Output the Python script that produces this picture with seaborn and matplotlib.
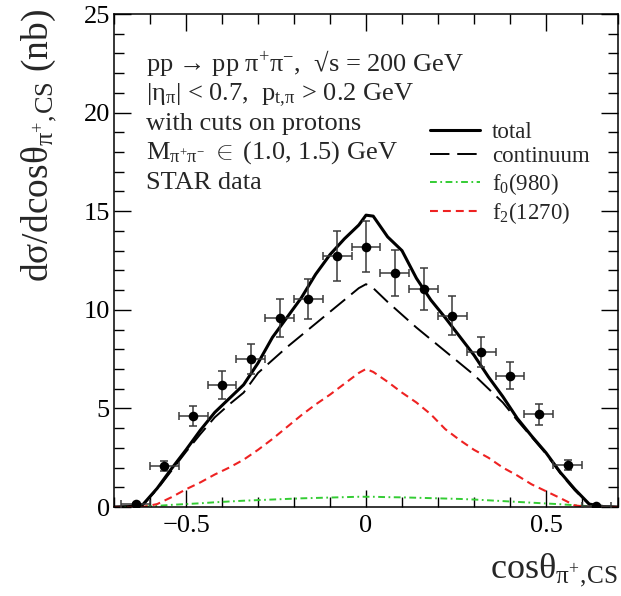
import numpy as np
import matplotlib
matplotlib.use("Agg")
import matplotlib.pyplot as plt
from matplotlib.ticker import MultipleLocator, FuncFormatter
import seaborn as sns

sns.set_style("ticks")
plt.rcParams["font.family"] = ["Liberation Serif", "DejaVu Serif"]
plt.rcParams["mathtext.fontset"] = "custom"
plt.rcParams["mathtext.rm"] = "Liberation Serif"
plt.rcParams["mathtext.it"] = "Liberation Serif:italic"
plt.rcParams["mathtext.bf"] = "Liberation Serif:bold"

# STAR data points (bin centres, values, errors)
data_x = [-0.64, -0.56, -0.48, -0.40, -0.32, -0.24, -0.16, -0.08, 0.0,
          0.08, 0.16, 0.24, 0.32, 0.40, 0.48, 0.56, 0.64]
data_y = [0.15, 2.1, 4.6, 6.2, 7.5, 9.6, 10.55, 12.75, 13.2,
          11.85, 11.05, 9.7, 7.85, 6.65, 4.7, 2.15, 0.05]
data_yerr = [0.05, 0.25, 0.5, 0.7, 0.75, 0.97, 1.0, 1.27, 1.28,
             1.16, 1.08, 1.0, 0.76, 0.69, 0.52, 0.25, 0.03]
data_xerr = 0.04

# model curves
curve_x = [-0.70, -0.66, -0.62, -0.58, -0.54, -0.50, -0.46, -0.42, -0.38, -0.34,
           -0.30, -0.26, -0.22, -0.18, -0.14, -0.10, -0.06, -0.02, 0.00, 0.02,
           0.06, 0.10, 0.14, 0.18, 0.22, 0.26, 0.30, 0.34, 0.38, 0.42,
           0.46, 0.50, 0.54, 0.58, 0.62, 0.66, 0.70]
total = [0.0, 0.02, 0.12, 0.95, 1.95, 2.9, 3.9, 4.8, 5.5, 6.2,
         7.3, 8.6, 9.6, 10.6, 11.8, 12.8, 13.6, 14.3, 14.8, 14.75,
         13.7, 13.0, 11.6, 10.5, 9.6, 8.65, 7.7, 6.6, 5.6, 4.5,
         3.6, 2.75, 1.75, 0.9, 0.15, 0.02, 0.0]
continuum = [0.0, 0.02, 0.1, 0.9, 1.85, 2.8, 3.7, 4.55, 5.2, 5.8,
             6.8, 7.45, 8.1, 8.7, 9.3, 9.9, 10.5, 11.1, 11.3, 11.1,
             10.4, 9.75, 9.1, 8.5, 7.9, 7.3, 6.7, 6.0, 5.3, 4.4,
             3.55, 2.7, 1.7, 0.85, 0.12, 0.02, 0.0]
f0_980 = [0.0, 0.0, 0.02, 0.06, 0.11, 0.15, 0.19, 0.24, 0.28, 0.32,
          0.35, 0.38, 0.41, 0.44, 0.46, 0.48, 0.50, 0.52, 0.52, 0.52,
          0.50, 0.49, 0.47, 0.45, 0.43, 0.41, 0.38, 0.34, 0.30, 0.26,
          0.22, 0.18, 0.14, 0.09, 0.04, 0.01, 0.0]
f2_1270 = [0.0, 0.0, 0.0, 0.15, 0.5, 0.9, 1.25, 1.65, 2.0, 2.4,
           2.9, 3.45, 4.05, 4.65, 5.2, 5.7, 6.25, 6.8, 7.0, 6.85,
           6.35, 5.8, 5.3, 4.7, 3.95, 3.4, 2.9, 2.5, 2.0, 1.6,
           1.15, 0.8, 0.45, 0.08, 0.0, 0.0, 0.0]

info_lines = [
    "pp → pp π$^{+}$π$^{-}$,  √s = 200 GeV",
    "|η$_{\\mathrm{π}}$| < 0.7,  p$_{\\mathrm{t,\\!π}}$ > 0.2 GeV",
    "with cuts on protons",
    "M$_{\\mathrm{π^{+}π^{-}}}$ $\\in$ (1.0, 1.5) GeV",
    "STAR data",
]
info_y = [22.1, 20.6, 19.1, 17.65, 16.15]

fig = plt.figure(figsize=(6.21, 5.96), dpi=100)
ax = fig.add_axes([0.1836, 0.1493, 0.8116, 0.8272])

sns.lineplot(x=curve_x, y=total, ax=ax, color="black", lw=2.2,
             estimator=None, label="total")
sns.lineplot(x=curve_x, y=continuum, ax=ax, color="black", lw=1.4,
             linestyle=(0, (10, 4)), estimator=None, label="continuum")
sns.lineplot(x=curve_x, y=f0_980, ax=ax, color="#33cc33", lw=1.4,
             linestyle=(0, (3.5, 1.8, 0.9, 1.8)), estimator=None, label="f$_{0}$(980)")
sns.lineplot(x=curve_x, y=f2_1270, ax=ax, color="#ee2222", lw=1.5,
             linestyle=(0, (3.8, 2.4)), estimator=None, label="f$_{2}$(1270)")

ax.errorbar(data_x, data_y, xerr=data_xerr, yerr=data_yerr, fmt="none",
            ecolor="#3a3a3a", elinewidth=1.1, capsize=3, capthick=1.1, zorder=4)
sns.scatterplot(x=data_x, y=data_y, ax=ax, color="black", s=48,
                edgecolor="black", linewidth=0, zorder=5)

ax.set_xlim(-0.7, 0.7)
ax.set_ylim(0, 25)
ax.xaxis.set_major_locator(MultipleLocator(0.5))
ax.xaxis.set_minor_locator(MultipleLocator(0.1))
ax.yaxis.set_major_locator(MultipleLocator(5))
ax.yaxis.set_minor_locator(MultipleLocator(1))
ax.xaxis.set_major_formatter(FuncFormatter(lambda v, p: f"{v:g}".replace("-", "\u2212")))
ax.tick_params(which="both", direction="in", top=True, right=True, width=1.0,
               labelsize=19, colors="black")
ax.tick_params(which="major", length=12.5)
ax.tick_params(which="minor", length=7)
ax.tick_params(axis="y", pad=3)
ax.tick_params(axis="x", pad=6)
for s in ax.spines.values():
    s.set_linewidth(1.1)
    s.set_color("black")

ax.set_xlabel("cosθ$_{\\mathrm{π^{+},\\!CS}}$", fontsize=26, loc="right")
ax.set_ylabel("dσ/dcosθ$_{\\mathrm{π^{+},\\!CS}}$ (nb)", fontsize=27, loc="top")
ax.xaxis.set_label_coords(1.0, -0.09)
ax.yaxis.set_label_coords(-0.11, 1.01)

for txt, yy in zip(info_lines, info_y):
    ax.text(-0.612, yy, txt, fontsize=19, ha="left", va="baseline")

leg = ax.legend(loc="upper left", bbox_to_anchor=(0.627, 0.781), frameon=False,
                fontsize=16.5, handlelength=2.2, handletextpad=0.5,
                borderpad=0, borderaxespad=0, labelspacing=0.15)

fig.savefig("out.png", dpi=100)
